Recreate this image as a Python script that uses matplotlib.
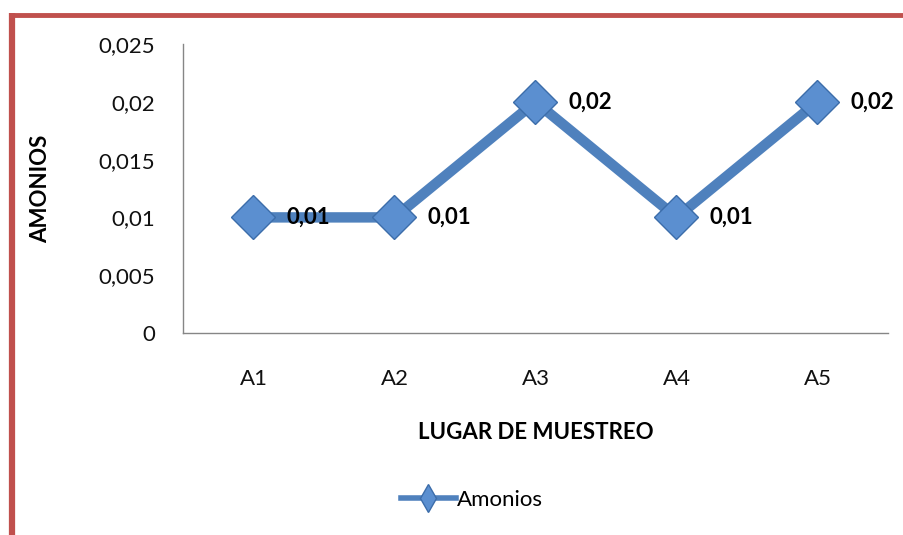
import matplotlib
matplotlib.use("Agg")
import matplotlib.pyplot as plt
from matplotlib.lines import Line2D
from matplotlib.ticker import FuncFormatter

categories = ["A1", "A2", "A3", "A4", "A5"]
amonios = [0.01, 0.01, 0.02, 0.01, 0.02]
data_labels = ["0,01", "0,01", "0,02", "0,01", "0,02"]
yticks = [0, 0.005, 0.01, 0.015, 0.02, 0.025]

FONT = ["Lato", "DejaVu Sans"]
plt.rcParams['font.family'] = FONT

BLUE = "#4F81BD"
W, H = 904, 535
fig = plt.figure(figsize=(W / 100, H / 100), dpi=100)

# red frame (top and left)
fig.add_artist(Line2D([10.5 / W, 1], [1 - 14.5 / H, 1 - 14.5 / H], color="#C0504D", lw=3.5,
                      transform=fig.transFigure, solid_capstyle="butt"))
fig.add_artist(Line2D([12 / W, 12 / W], [0, 1 - 12.8 / H], color="#C0504D", lw=4.5,
                      transform=fig.transFigure, solid_capstyle="butt"))

left, right, top, bottom = 183, 888, 44, 333
ax = fig.add_axes([left / W, 1 - bottom / H, (right - left) / W, (bottom - top) / H])

x = list(range(len(categories)))
line, = ax.plot(x, amonios, color=BLUE, lw=7.5, marker="D", markersize=22,
                markerfacecolor="#5B8FD0", markeredgecolor="#3C6DAA", markeredgewidth=1.0,
                label="Amonios", zorder=3)

for xi, yi, lab in zip(x, amonios, data_labels):
    ax.annotate(lab, (xi, yi), xytext=(24, 0), textcoords="offset points",
                ha="left", va="center", fontsize=16, fontweight="bold", color="black", zorder=4)

ax.set_xlim(-0.5, len(categories) - 0.5)
ax.set_ylim(0, 0.025)
ax.set_yticks(yticks)
ax.yaxis.set_major_formatter(FuncFormatter(lambda v, p: "0" if v == 0 else f"{v:g}".replace(".", ",")))
ax.set_xticks(x)
ax.set_xticklabels(categories)
ax.tick_params(axis="y", length=0, pad=20, labelsize=16, labelcolor="#111111")
ax.tick_params(axis="x", length=0, pad=26, labelsize=16, labelcolor="#111111")

for s in ["top", "right"]:
    ax.spines[s].set_visible(False)
for s in ["left", "bottom"]:
    ax.spines[s].set_color("#868686")
    ax.spines[s].set_linewidth(1.0)

ax.set_ylabel("AMONIOS", fontsize=16, fontweight="bold", labelpad=34)
ax.set_xlabel("LUGAR DE MUESTREO", fontsize=16, fontweight="bold", labelpad=24)

leg_handle = Line2D([0], [0], color=BLUE, lw=4, marker="d", markersize=14,
                    markerfacecolor="#5B8FD0", markeredgecolor="#3C6DAA")
fig.legend([leg_handle], ["Amonios"], loc="center", bbox_to_anchor=(472 / W, 1 - 500 / H),
           frameon=False, fontsize=16, handlelength=2.5, handletextpad=0.05)

fig.savefig("out.png", dpi=100)
